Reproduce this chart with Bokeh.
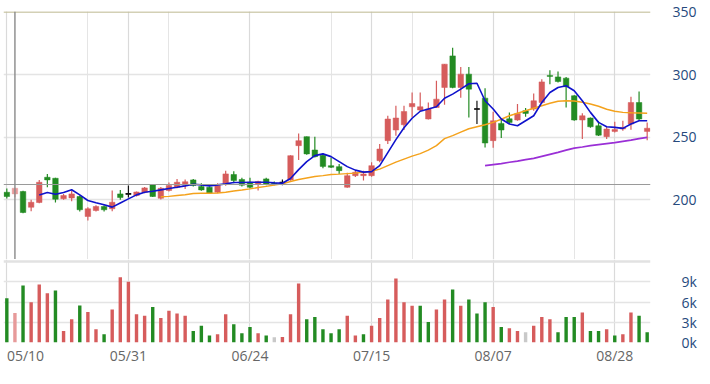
from bokeh.plotting import figure
from bokeh.layouts import column
from bokeh.models import ColumnDataSource, FixedTicker, Grid, Span, Range1d
from bokeh.embed import file_html
from bokeh.resources import INLINE

# ---------------- data ----------------
tick_positions = [2.3, 15, 30, 45, 60, 75]
tick_labels = ["05/10", "05/31", "06/24", "07/15", "08/07", "08/28"]
grid_positions = [0, 15, 30, 45, 60, 75]

opens = [205.8, 204.5, 206.4, 193.8, 197.6, 217.8, 217.0, 200.6, 201.3, 202.4,
         186.4, 191.2, 194.4, 192.6, 204.5, 204.5, 203.2, 205.8, 211.7, 201.0,
         207.2, 209.8, 211.5, 215.7, 210.4, 209.8, 205.8, 213.0, 220.0, 216.0,
         213.8, 212.5, 216.5, 213.0, 213.5, 215.7, 243.1, 250.3, 239.6, 235.5,
         227.1, 226.3, 209.8, 219.1, 219.1, 219.1, 231.1, 247.1, 255.6, 259.8,
         274.2, 271.6, 264.4, 273.6, 289.6, 314.9, 289.6, 300.3, 272.4, 281.1,
         247.1, 260.9, 264.6, 263.6, 271.0, 272.4, 277.6, 299.3, 298.1, 297.1,
         283.0, 263.6, 265.2, 259.0, 250.3, 254.5, 256.4, 260.4, 277.6, 254.5]
highs = [208.8, 209.5, 207.0, 199.8, 215.7, 220.5, 217.5, 204.5, 207.2, 203.3,
         193.9, 195.5, 195.5, 207.2, 207.7, 211.2, 206.5, 210.0, 212.0, 210.0,
         213.6, 216.5, 216.0, 216.5, 213.0, 210.5, 213.0, 223.0, 222.7, 217.5,
         217.5, 215.0, 217.5, 214.5, 216.0, 235.5, 252.9, 250.5, 250.3, 237.0,
         233.5, 228.5, 221.5, 223.0, 223.1, 229.8, 244.4, 267.0, 275.0, 275.0,
         285.6, 285.6, 277.6, 295.0, 308.5, 321.5, 306.1, 306.0, 279.0, 289.1,
         270.2, 264.4, 269.7, 276.4, 273.2, 284.8, 296.3, 303.5, 302.4, 298.1,
         283.5, 269.0, 265.7, 262.6, 258.0, 262.2, 263.0, 282.3, 286.4, 261.7]
lows = [200.8, 201.8, 189.0, 190.7, 197.0, 209.9, 197.6, 199.8, 198.6, 190.4,
        183.2, 190.5, 190.5, 190.7, 199.8, 201.6, 202.5, 205.0, 202.0, 200.0,
        206.5, 209.0, 208.5, 210.5, 207.0, 205.0, 205.0, 211.0, 213.0, 210.5,
        208.8, 207.2, 211.5, 211.5, 211.5, 215.0, 231.7, 235.9, 233.7, 225.0,
        225.3, 220.5, 209.5, 218.0, 215.2, 218.3, 229.8, 244.4, 251.1, 255.6,
        265.7, 270.4, 264.1, 273.6, 275.8, 289.0, 281.4, 265.7, 260.4, 241.7,
        241.5, 249.2, 260.4, 263.0, 266.2, 271.0, 276.8, 292.3, 293.6, 273.6,
        263.0, 248.4, 257.4, 250.8, 248.4, 253.7, 255.0, 255.8, 263.0, 247.5]
closes = [202.4, 209.0, 189.6, 197.8, 213.8, 215.7, 200.2, 203.2, 204.5, 191.8,
          192.6, 194.4, 191.8, 197.8, 201.6, 204.5, 206.0, 209.3, 202.4, 209.0,
          211.2, 213.8, 214.2, 211.2, 207.7, 205.3, 211.2, 220.5, 215.2, 211.5,
          209.8, 214.4, 212.5, 212.5, 213.5, 235.1, 247.1, 236.5, 234.3, 226.5,
          225.8, 223.1, 219.1, 221.8, 220.4, 227.1, 240.4, 264.4, 265.2, 270.4,
          276.8, 274.2, 272.4, 280.3, 308.3, 289.6, 300.3, 288.3, 272.4, 245.2,
          263.0, 255.6, 261.7, 268.9, 268.9, 279.0, 294.1, 298.5, 294.4, 290.2,
          263.6, 267.0, 258.2, 251.5, 256.4, 256.0, 257.7, 277.6, 264.4, 257.0]

volumes = [6570, 4360, 8430, 5980, 8580, 7300, 7700, 1720, 3430, 5490,
           4510, 1960, 1230, 4900, 9660, 9020, 4170, 3970, 5250, 3630,
           4700, 4310, 3970, 1720, 2500, 1030, 1230, 4170, 2700, 1370,
           2300, 1370, 1030, 780, 830, 4170, 8730, 3430, 3770, 1960,
           1370, 1960, 3970, 1030, 1230, 2500, 3630, 6370, 9500, 5980,
           5440, 5440, 3040, 4900, 6370, 7840, 5440, 6370, 4310, 5980,
           5250, 2300, 2110, 1720, 1520, 2500, 3770, 3430, 1520, 3770,
           3770, 4460, 1720, 1720, 1960, 1030, 1230, 4460, 3970, 1520]
volume_dir = ["d", "u", "d", "u", "u", "u", "d", "u", "u", "d",
              "u", "u", "d", "u", "u", "u", "u", "u", "d", "u",
              "u", "u", "u", "d", "d", "d", "u", "u", "d", "d",
              "d", "u", "d", "f", "u", "u", "u", "d", "d", "d",
              "d", "d", "u", "u", "d", "u", "u", "u", "u", "u",
              "u", "d", "d", "u", "u", "d", "u", "d", "d", "d",
              "u", "d", "u", "u", "f", "u", "u", "u", "d", "d",
              "d", "u", "d", "d", "u", "d", "u", "u", "d", "d"]

ma5_start = 4
ma5 = [203.6, 205.6, 204.2, 205.6, 207.8, 203.7, 199.2, 197.4, 195.8, 193.9,
       197.2, 200.5, 203.7, 205.8, 206.6, 207.7, 208.8, 209.8, 210.9, 212.2,
       211.7, 210.9, 211.7, 212.5, 213.6, 213.6, 213.8, 213.8, 213.8, 213.3,
       213.0, 216.8, 223.9, 230.3, 235.1, 236.5, 234.3, 230.3, 226.3, 223.5,
       221.9, 222.3, 227.1, 237.5, 247.9, 257.4, 265.0, 270.6, 272.4, 274.2,
       281.0, 284.3, 288.3, 292.6, 293.0, 279.0, 272.4, 264.4, 260.4, 259.0,
       263.0, 267.0, 277.6, 285.6, 289.6, 291.0, 287.0, 279.0, 269.7, 261.7,
       258.2, 257.7, 256.9, 260.4, 263.0, 263.0]
ma20_start = 19
ma20 = [202.2, 202.5, 203.2, 203.8, 204.8, 205.0, 205.0, 205.2, 205.8, 206.8,
        207.6, 208.5, 209.6, 210.5, 211.6, 212.5, 214.4, 216.0, 217.2, 218.4,
        219.1, 220.0, 220.3, 220.7, 221.1, 221.9, 222.6, 224.3, 227.1, 229.9,
        232.3, 234.7, 236.7, 239.5, 243.1, 248.7, 251.1, 253.9, 256.6, 258.2,
        259.8, 261.7, 264.2, 267.0, 269.0, 271.0, 273.0, 275.0, 277.0, 278.6,
        279.0, 278.8, 277.8, 276.4, 274.6, 272.2, 270.6, 269.7, 269.4, 269.2,
        269.0]
ma60_start = 59
ma60 = [227.1, 227.9, 228.7, 229.8, 230.7, 231.9, 232.9, 234.5, 236.1, 237.7,
        239.5, 241.1, 242.0, 243.1, 243.9, 244.7, 245.5, 246.5, 247.5, 248.7,
        249.7]

price_ticks = [200, 250, 300, 350]
volume_ticks = [0, 3000, 6000, 9000]
volume_tick_labels = ["0k", "3k", "6k", "9k"]
cursor_index = 1
cursor_price = 212

# ---------------- styling ----------------
RED = "#d65c5c"
RED_LIGHT = "#e79a9a"
GREEN = "#238b23"
BLACK = "#111111"
GRAY_VOL = "#c9c9c9"
GRID = "#e4e4e4"
FONT = "Open Sans"
YLAB = "#264a7d"
XLAB = "#666666"

n = len(closes)
idx = list(range(n))

def candle_color(o, c, i):
    if c > o:
        return RED_LIGHT if i == cursor_index else RED
    if c < o:
        return GREEN
    return BLACK

colors = [candle_color(o, c, i) for i, (o, c) in enumerate(zip(opens, closes))]
vol_colors = []
for i, d in enumerate(volume_dir):
    if d == "u":
        vol_colors.append(RED_LIGHT if i == cursor_index else RED)
    elif d == "d":
        vol_colors.append(GREEN)
    else:
        vol_colors.append(GRAY_VOL)

src = ColumnDataSource(dict(
    x=idx, open=opens, high=highs, low=lows, close=closes,
    top=[max(o, c) for o, c in zip(opens, closes)],
    bottom=[min(o, c) for o, c in zip(opens, closes)],
    color=colors,
))
doji = [i for i in idx if opens[i] == closes[i]]
doji_src = ColumnDataSource(dict(
    x0=[i - 0.34 for i in doji], x1=[i + 0.34 for i in doji],
    y=[opens[i] for i in doji],
))
vsrc = ColumnDataSource(dict(x=idx, v=volumes, color=vol_colors))

xr = Range1d(-0.41, 79.41)
W = 706
BL = 3
BR = 56

# ---------------- price panel ----------------
p = figure(width=W, height=259, x_range=xr, y_range=Range1d(152, 350.4),
           x_axis_location=None, y_axis_location="right",
           toolbar_location=None, output_backend="svg",
           min_border_left=BL, min_border_right=BR, min_border_top=11,
           min_border_bottom=0, outline_line_color=None)
p.yaxis.ticker = FixedTicker(ticks=price_ticks)
p.yaxis.major_tick_out = 0
p.yaxis.major_tick_in = 0
p.yaxis.minor_tick_out = 0
p.yaxis.minor_tick_in = 0
p.yaxis.axis_line_color = None
p.yaxis.major_label_standoff = 22
p.yaxis.major_label_text_font = FONT
p.yaxis.major_label_text_font_size = "14px"
p.yaxis.major_label_text_color = YLAB
p.ygrid.ticker = FixedTicker(ticks=[200, 250, 300])
p.ygrid.grid_line_color = GRID
p.ygrid.grid_line_width = 1.5
p.add_layout(Grid(dimension=0, ticker=FixedTicker(ticks=grid_positions),
                  grid_line_color="#dadada", grid_line_width=1.2))
p.add_layout(Span(location=350, dimension="width", line_color="#c4c09c", line_width=1.6))
p.add_layout(Span(location=cursor_price, dimension="width", line_color="#9a9a9a", line_width=1.2))
p.add_layout(Span(location=cursor_index, dimension="height", line_color="#8a8a8a", line_width=1.4))

p.segment(x0="x", x1="x", y0="low", y1="high", color="color", line_width=1.2, source=src)
p.vbar(x="x", width=0.68, top="top", bottom="bottom", fill_color="color",
       line_color="color", line_width=0.5, source=src)
p.segment(x0="x0", x1="x1", y0="y", y1="y", color=BLACK, line_width=1.6, source=doji_src)

p.line(list(range(ma60_start, ma60_start + len(ma60))), ma60, line_color="#9a2fd6", line_width=1.6)
p.line(list(range(ma20_start, ma20_start + len(ma20))), ma20, line_color="#f4a21c", line_width=1.4)
p.line(list(range(ma5_start, ma5_start + len(ma5))), ma5, line_color="#0f12cc", line_width=1.6)

# ---------------- volume panel ----------------
v = figure(width=W, height=125, x_range=xr, y_range=Range1d(0, 12300),
           x_axis_location="below", y_axis_location="right",
           toolbar_location=None, output_backend="svg",
           min_border_left=BL, min_border_right=BR, min_border_top=0,
           min_border_bottom=42, outline_line_color=None)
v.vbar(x="x", width=0.42, top="v", bottom=0, fill_color="color",
       line_color=None, source=vsrc)
v.yaxis.ticker = FixedTicker(ticks=volume_ticks)
v.yaxis.major_label_overrides = {t: l for t, l in zip(volume_ticks, volume_tick_labels)}
v.yaxis.major_tick_out = 0
v.yaxis.major_tick_in = 0
v.yaxis.minor_tick_out = 0
v.yaxis.minor_tick_in = 0
v.yaxis.axis_line_color = None
v.yaxis.major_label_standoff = 31
v.yaxis.major_label_text_font = FONT
v.yaxis.major_label_text_font_size = "14px"
v.yaxis.major_label_text_color = YLAB
v.ygrid.ticker = FixedTicker(ticks=[0, 3000, 6000, 9000])
v.ygrid.grid_line_color = GRID
v.ygrid.grid_line_width = 1.5
v.add_layout(Span(location=12000, dimension="width", line_color="#e2e2e2", line_width=2.5))

v.xaxis.ticker = FixedTicker(ticks=tick_positions)
v.xaxis.major_label_overrides = {t: l for t, l in zip(tick_positions, tick_labels)}
v.xaxis.major_tick_out = 0
v.xaxis.major_tick_in = 0
v.xaxis.minor_tick_out = 0
v.xaxis.minor_tick_in = 0
v.xaxis.axis_line_color = None
v.xaxis.major_label_standoff = 3
v.xaxis.major_label_text_font = FONT
v.xaxis.major_label_text_font_size = "14px"
v.xaxis.major_label_text_color = XLAB
v.xgrid.ticker = FixedTicker(ticks=grid_positions)
v.xgrid.grid_line_color = "#dadada"
v.xgrid.grid_line_width = 1.2

layout = column(p, v, spacing=0)
open("out.html", "w").write(file_html(layout, INLINE))
